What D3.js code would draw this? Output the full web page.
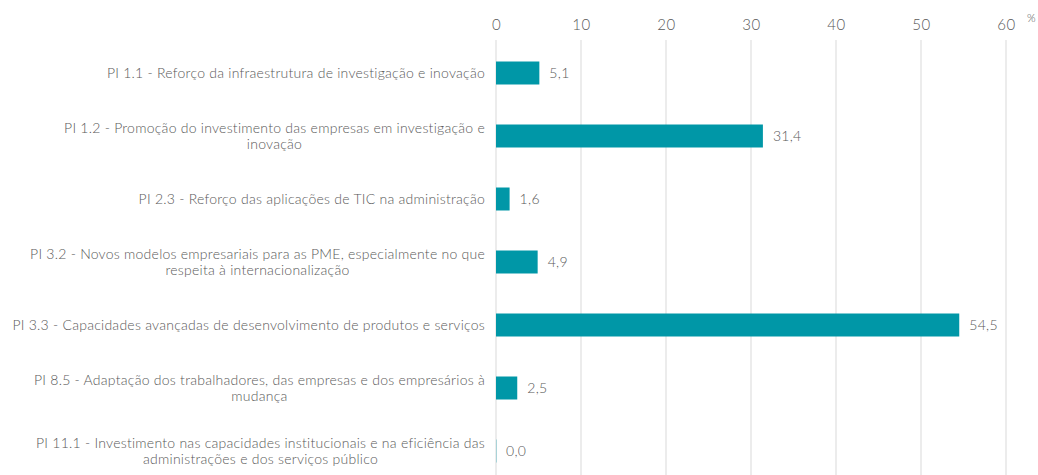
<!DOCTYPE html>
<meta charset="utf-8">
<head>
<style>
  body { margin: 0; background: #fff; font-family: 'Lato', 'Roboto', sans-serif; font-weight: 300; }
  text { fill: #595959; }
</style>
</head>
<body>
<div id="chart"></div>
<script src="https://d3js.org/d3.v7.min.js"></script>
<script>

// data
var labels = [
  ["PI 1.1 - Reforço da infraestrutura de investigação e inovação"],
  ["PI 1.2 - Promoção do investimento das empresas em investigação e", "inovação"],
  ["PI 2.3 - Reforço das aplicações de TIC na administração"],
  ["PI 3.2 - Novos modelos empresariais para as PME, especialmente no que", "respeita à internacionalização"],
  ["PI 3.3 - Capacidades avançadas de desenvolvimento de produtos e serviços"],
  ["PI 8.5 - Adaptação dos trabalhadores, das empresas e dos empresários à", "mudança"],
  ["PI 11.1 - Investimento nas capacidades institucionais e na eficiência das", "administrações e dos serviços público"]
];
var values = [5.1, 31.4, 1.6, 4.9, 54.5, 2.5, 0.0];
var ticks = [0, 10, 20, 30, 40, 50, 60];

var width = 1038, height = 475;

var svg = d3.select("#chart").append("svg")
  .attr("width", width)
  .attr("height", height);

var x = d3.scaleLinear().domain([0, 60]).range([496, 1006]);
var y = d3.scaleBand()
  .domain(d3.range(values.length))
  .range([41.5, 482.5])
  .paddingInner(0.635)
  .paddingOuter(0.3175);

// gridlines
svg.selectAll(".grid")
  .data(ticks)
  .enter().append("line")
    .attr("x1", function(d) { return x(d) })
    .attr("x2", function(d) { return x(d) })
    .attr("y1", 40)
    .attr("y2", height)
    .attr("stroke", "#d9d9d9")
    .attr("stroke-width", 1);

// top axis labels
var axis = svg.append("g")
  .attr("transform", "translate(0,30)")
  .call(d3.axisTop(x).tickValues(ticks).tickSize(0).tickPadding(0));
axis.select(".domain").remove();
axis.selectAll("text")
  .style("font-family", "Lato, Roboto, sans-serif")
  .style("font-weight", 300)
  .style("font-size", "15px")
  .style("letter-spacing", "0.5px")
  .style("fill", "#595959");

svg.append("text")
  .attr("x", 1027)
  .attr("y", 22)
  .style("font-size", "11px")
  .text("%");

// bars
svg.selectAll(".bar")
  .data(values)
  .enter().append("rect")
    .attr("x", x(0))
    .attr("y", function(d, i) { return y(i) })
    .attr("width", function(d) { return Math.max(x(d) - x(0), 1) })
    .attr("height", y.bandwidth())
    .attr("fill", function(d) { return d > 0 ? "#0097a7" : "#a9d3d8" });

// value labels
svg.selectAll(".val")
  .data(values)
  .enter().append("text")
    .attr("x", function(d) { return x(d) + 10 })
    .attr("y", function(d, i) { return y(i) + y.bandwidth() / 2 })
    .attr("dy", "0.35em")
    .style("font-size", "14px")
    .style("letter-spacing", "0.3px")
    .text(function(d) { return d.toFixed(1).replace(".", ",") });

// category labels: block right-aligned, lines centred
var lineH = 16;
labels.forEach(function(lines, i) {
  var cy = y(i) + y.bandwidth() / 2;
  var g = svg.append("g");
  var t = g.selectAll("text")
    .data(lines)
    .enter().append("text")
      .attr("y", function(d, j) { return cy + (j - (lines.length - 1) / 2) * lineH })
      .attr("dy", "0.35em")
      .attr("text-anchor", "middle")
      .style("font-size", "14px")
      .style("letter-spacing", "0.25px")
      .text(function(d) { return d });
  var maxW = d3.max(t.nodes(), function(n) { return n.getComputedTextLength() });
  t.attr("x", 485 - maxW / 2);
});

</script>
</body>
